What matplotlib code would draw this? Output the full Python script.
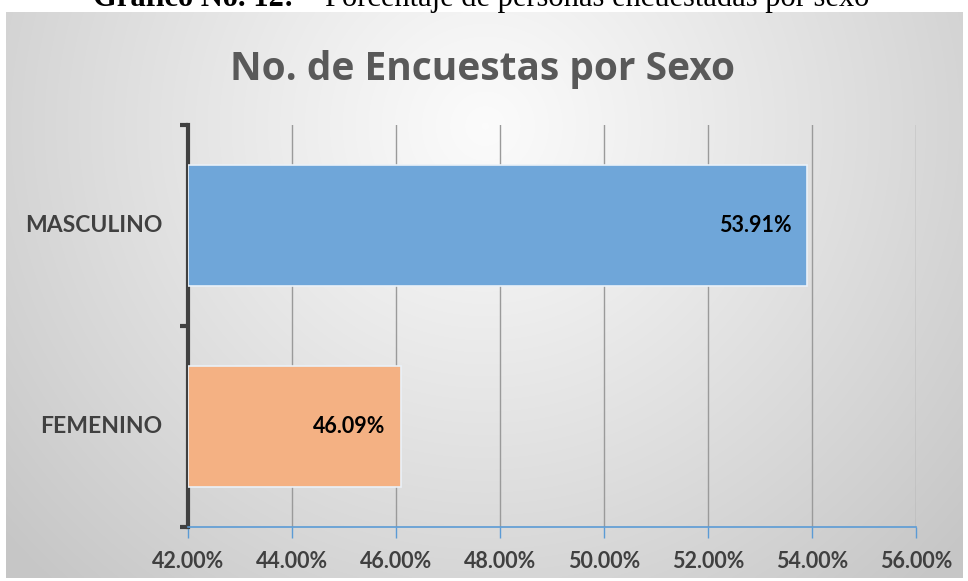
import numpy as np
import matplotlib
matplotlib.use("Agg")
import matplotlib.pyplot as plt
from matplotlib.ticker import FuncFormatter

categories = ["FEMENINO", "MASCULINO"]
values = [46.09, 53.91]
bar_colors = ["#F4B183", "#6FA6D9"]
xticks = [42, 44, 46, 48, 50, 52, 54, 56]
title = "No. de Encuestas por Sexo"
caption_bold = "Gráfico No. 12:"
caption_rest = "Porcentaje de personas encuestadas por sexo"

W, H = 968, 581
fig = plt.figure(figsize=(W / 100, H / 100), dpi=100)
fig.patch.set_facecolor("white")

# background panel with radial gradient
bx0, bx1, by0, by1 = 6, 963, 12, 578
bg = fig.add_axes([bx0 / W, 1 - by1 / H, (bx1 - bx0) / W, (by1 - by0) / H])
yy, xx = np.mgrid[0:300, 0:500]
cx, cy = 250, 60
d = np.sqrt(((xx - cx) / 330.0) ** 2 + ((yy - cy) / 330.0) ** 2)
d = np.clip(d, 0, 1)
light, dark = 0.985, 0.78
img = light - (light - dark) * d ** 1.1
bg.imshow(np.dstack([img, img, img]), aspect="auto", extent=[0, 1, 0, 1], interpolation="bilinear")
bg.set_axis_off()

# main axes
x0, x1, y0, y1 = 188, 916, 125, 527
ax = fig.add_axes([x0 / W, 1 - y1 / H, (x1 - x0) / W, (y1 - y0) / H])
ax.patch.set_alpha(0)
ypos = np.arange(len(categories))
ax.barh(ypos, [v - 42 for v in values], left=42, height=0.6, color=bar_colors,
        edgecolor="#EAF1F8", linewidth=1.2, zorder=3)
ax.set_xlim(42, 56)
ax.set_ylim(-0.5, 1.5)
ax.set_xticks(xticks)
ax.xaxis.set_major_formatter(FuncFormatter(lambda v, p: f"{v:.2f}%"))
ax.grid(axis="x", color="#9a9a9a", linewidth=1.0, zorder=1)
ax.set_yticks([-0.5, 0.5, 1.5])
ax.set_yticklabels([])
ax.tick_params(axis="y", length=6, width=3, color="#404040", direction="out")
ax.tick_params(axis="x", length=8, width=1, color="#5B9BD5", direction="out", pad=9)
for lab in ax.get_xticklabels():
    lab.set_fontfamily("Lato")
    lab.set_fontweight("bold")
    lab.set_fontsize(15.5)
    lab.set_color("#404040")
for s in ["top", "right"]:
    ax.spines[s].set_visible(False)
ax.spines["left"].set_color("#404040")
ax.spines["left"].set_linewidth(3)
ax.spines["bottom"].set_color("#5B9BD5")
ax.spines["bottom"].set_linewidth(1.2)

for y, c in zip(ypos, categories):
    ax.text(-0.035, y, c, transform=ax.get_yaxis_transform(), ha="right", va="center",
            fontfamily="Lato", fontweight="bold", fontsize=16.5, color="#404040")
for y, v in zip(ypos, values):
    ax.text(v - 0.3, y, f"{v:.2f}%", ha="right", va="center",
            fontfamily="Lato", fontweight="bold", fontsize=15.5, color="black", zorder=4)

fig.text(483 / W, 1 - 70 / H, title, ha="center", va="center",
         fontfamily="Open Sans", fontweight="bold", fontsize=28, color="#595959")

# caption, mostly cut off at the top edge (as in the reference)
fig.text(93 / W, 1 - 6 / H, caption_bold, ha="left", va="baseline",
         fontfamily="Liberation Serif", fontweight="bold", fontsize=22, color="black")
fig.text(325 / W, 1 - 6 / H, caption_rest, ha="left", va="baseline",
         fontfamily="Liberation Serif", fontsize=22, color="black")

fig.savefig("out.png", dpi=100)
